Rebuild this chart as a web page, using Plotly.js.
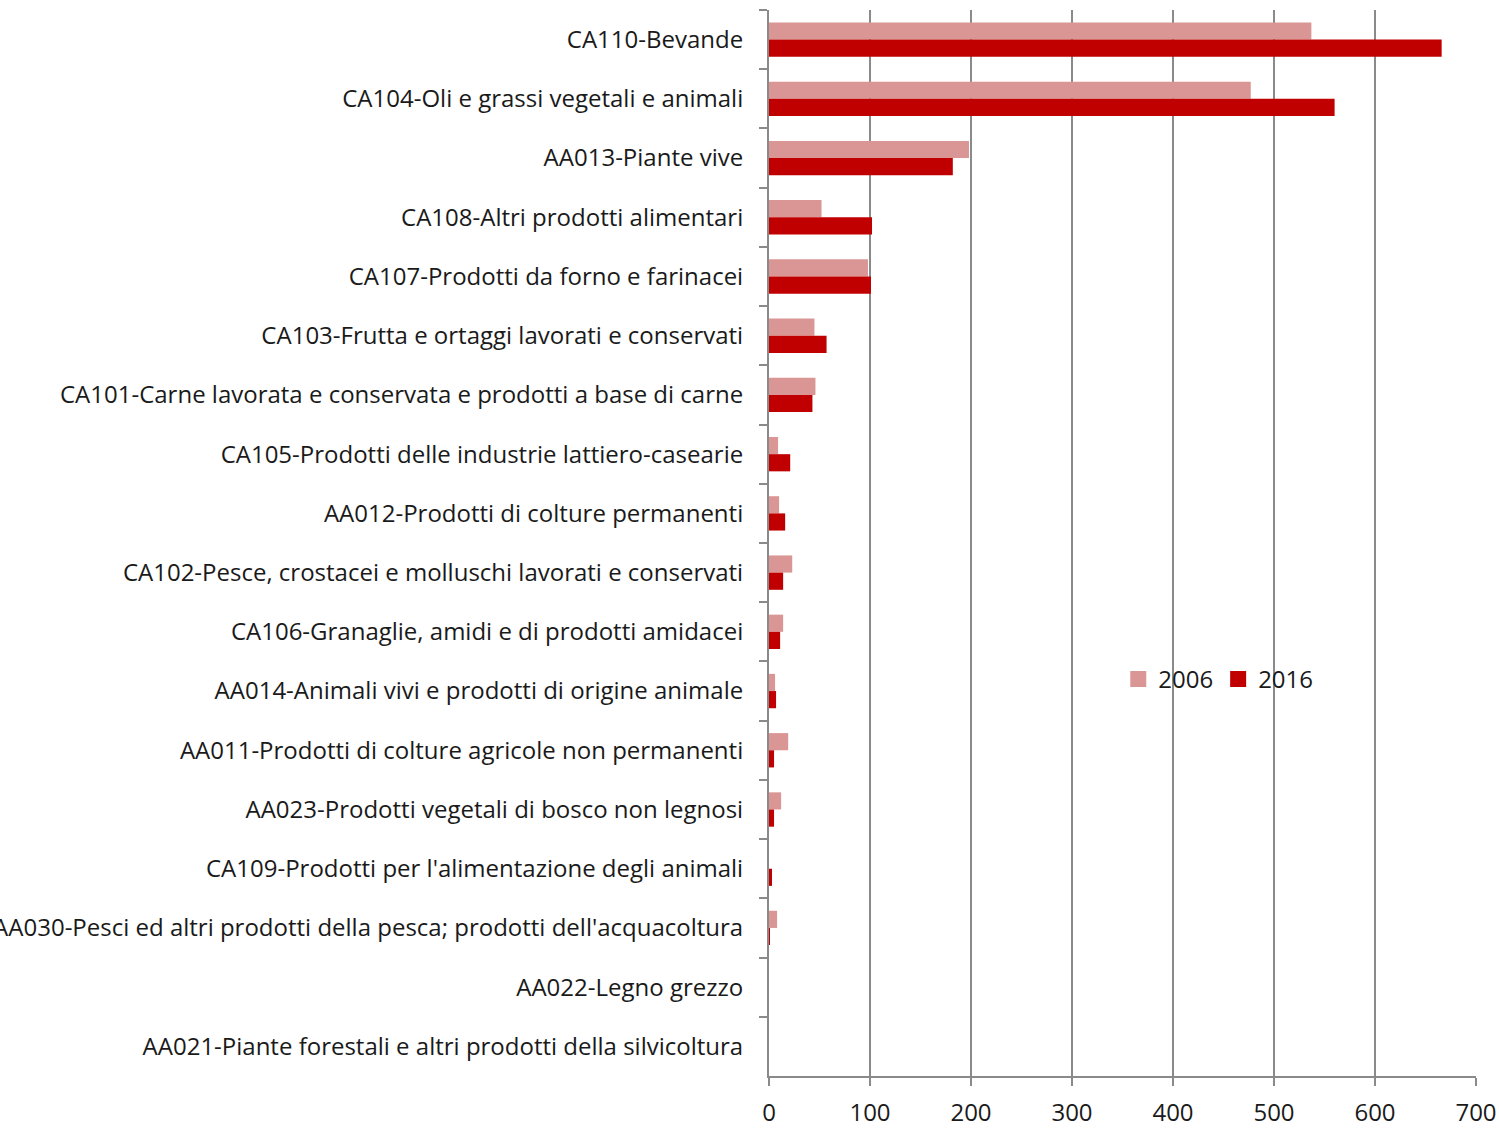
<!DOCTYPE html>
<html>
<head>
<meta charset="utf-8">
<script src="https://cdn.plot.ly/plotly-3.0.1.min.js"></script>
<style>html,body{margin:0;padding:0;background:#fff;}#chart{width:1499px;height:1130px;}</style>
</head>
<body>
<div id="chart"></div>
<script>
const categories = [
  "CA110-Bevande",
  "CA104-Oli e grassi vegetali e animali",
  "AA013-Piante vive",
  "CA108-Altri prodotti alimentari",
  "CA107-Prodotti da forno e farinacei",
  "CA103-Frutta e ortaggi lavorati e conservati",
  "CA101-Carne lavorata e conservata e prodotti a base di carne",
  "CA105-Prodotti delle industrie lattiero-casearie",
  "AA012-Prodotti di colture permanenti",
  "CA102-Pesce, crostacei e molluschi lavorati e conservati",
  "CA106-Granaglie, amidi e di prodotti amidacei",
  "AA014-Animali vivi e prodotti di origine animale",
  "AA011-Prodotti di colture agricole non permanenti",
  "AA023-Prodotti vegetali di bosco non legnosi",
  "CA109-Prodotti per l'alimentazione degli animali",
  "AA030-Pesci ed altri prodotti della pesca; prodotti dell'acquacoltura",
  "AA022-Legno grezzo",
  "AA021-Piante forestali e altri prodotti della silvicoltura"
];
const values2006 = [537, 477, 198, 52, 98, 45, 46, 9, 10, 23, 14, 6, 19, 12, 0, 8, 0, 0];
const values2016 = [666, 560, 182, 102, 101, 57, 43, 21, 16, 14, 11, 7, 5, 5, 3, 1, 0, 0];
const seriesNames = ["2006", "2016"];
const seriesColors = ["#DA9694", "#C00000"];
const xTicks = [0, 100, 200, 300, 400, 500, 600, 700];

const font = {family: "Open Sans, Noto Sans, sans-serif", size: 24, color: "#1a1a1a"};
const axisGray = "#8a8a8a";

const traces = [
  {type: "bar", orientation: "h", name: seriesNames[0], y: categories, x: values2006,
   marker: {color: seriesColors[0]}, showlegend: false},
  {type: "bar", orientation: "h", name: seriesNames[1], y: categories, x: values2016,
   marker: {color: seriesColors[1]}, showlegend: false},
  // legend entries with larger square symbols
  {type: "scatter", mode: "markers", name: seriesNames[0], x: [null], y: [null],
   marker: {symbol: "square", size: 16, color: seriesColors[0]}, showlegend: true},
  {type: "scatter", mode: "markers", name: seriesNames[1], x: [null], y: [null],
   marker: {symbol: "square", size: 16, color: seriesColors[1]}, showlegend: true}
];

const layout = {
  width: 1499, height: 1130,
  margin: {l: 769, r: 23, t: 10, b: 54, pad: 0},
  paper_bgcolor: "#fff", plot_bgcolor: "#fff",
  font: font,
  barmode: "group",
  bargap: 0.42,
  bargroupgap: 0,
  showlegend: true,
  legend: {orientation: "h", x: 0.494, y: 0.372, xanchor: "left", yanchor: "middle",
           bgcolor: "rgba(0,0,0,0)", font: font, itemwidth: 30, tracegroupgap: 0,
           itemclick: false},
  xaxis: {range: [0, 700], tickvals: xTicks, ticktext: xTicks.map(String),
          showgrid: true, gridcolor: axisGray, gridwidth: 2,
          showline: true, linecolor: axisGray, linewidth: 2,
          ticks: "outside", ticklen: 8, tickcolor: axisGray, tickwidth: 2,
          ticklabelstandoff: 6,
          zeroline: false, tickfont: font, fixedrange: true},
  yaxis: {type: "category", autorange: "reversed", showgrid: false,
          showline: true, linecolor: axisGray, linewidth: 2,
          ticks: "outside", ticklen: 8, tickcolor: axisGray, tickwidth: 2,
          tickson: "boundaries", ticklabelstandoff: 19,
          zeroline: false, tickfont: font, automargin: false, fixedrange: true}
};

Plotly.newPlot("chart", traces, layout, {displayModeBar: false, staticPlot: true});
</script>
</body>
</html>
